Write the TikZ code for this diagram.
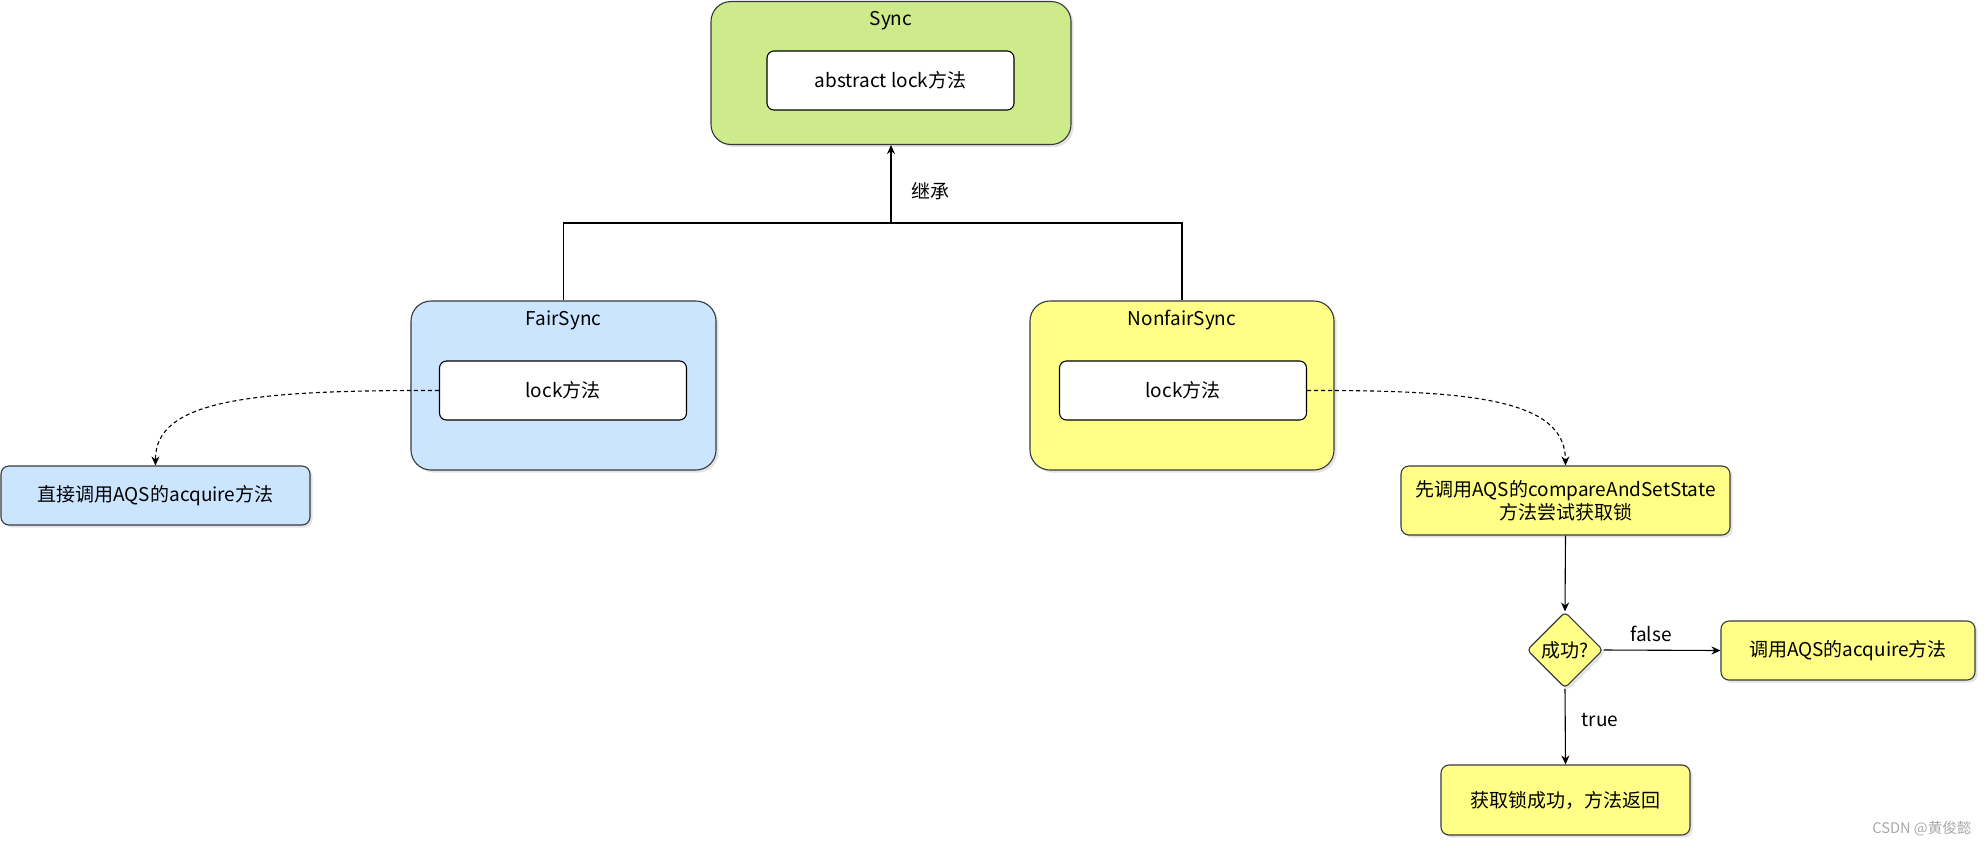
\documentclass[tikz,border=0pt]{standalone}
\usepackage{fontspec}
\setmainfont{Noto Sans CJK SC}
\usetikzlibrary{shapes.geometric,arrows.meta,shadows}
\definecolor{sgreen}{HTML}{CDEB8B}
\definecolor{sblue}{HTML}{CCE5FF}
\definecolor{syellow}{HTML}{FFFF88}
\definecolor{sstroke}{HTML}{36393D}
\definecolor{wmark}{HTML}{A8A8A8}
\begin{document}
\begin{tikzpicture}[x=0.5pt,y=-0.5pt,
  font=\fontsize{9.5}{12}\selectfont,
  shd/.style={drop shadow={opacity=0.22,shadow xshift=1.3pt,shadow yshift=-1.3pt}},
  outerbox/.style={draw=sstroke,line width=0.55pt,rounded corners=10pt,shd,
    minimum width=#1,minimum height=84.5pt,inner sep=0pt},
  innerbox/.style={draw=black,line width=0.55pt,fill=white,rounded corners=3.5pt,
    minimum width=123.5pt,minimum height=29.5pt,inner sep=0pt},
  procbox/.style={draw=sstroke,line width=0.55pt,rounded corners=4pt,shd,inner sep=0pt,align=center},
  conn/.style={draw=black,line width=0.55pt},
  arr/.style={conn,-{Stealth[length=4.5pt,width=4pt]}},
  darr/.style={arr,dash pattern=on 2pt off 1.5pt},
  lbl/.style={inner sep=0pt}
]
\useasboundingbox (0,0) rectangle (1987,847);

% Sync
\node[outerbox=180pt,minimum height=71.5pt,fill=sgreen] (sync) at (891,73) {};
\node[lbl,anchor=base] (synct) at (891,25) {Sync};
\node[innerbox] (synci) at (890.5,80.5) {abstract lock方法};

% FairSync
\node[outerbox=152.5pt,fill=sblue] (fair) at (563.5,385.5) {};
\node[lbl,anchor=base] (fairt) at (563.5,325) {FairSync};
\node[innerbox] (fairi) at (563,390.5) {lock方法};

% NonfairSync
\node[outerbox=152pt,fill=syellow] (nonfair) at (1182,385.5) {};
\node[lbl,anchor=base] (nonfairt) at (1182,325) {NonfairSync};
\node[innerbox] (nonfairi) at (1183,390.5) {lock方法};

% inheritance
\coordinate (j) at (891,223);
\draw[conn] (fair.north) |- (j);
\draw[conn] (nonfair.north) |- (j);
\draw[arr] (j) -- (sync.south);
\node[lbl] (inh) at (930,191) {继承};

% left process
\node[procbox,fill=sblue,minimum width=154.5pt,minimum height=29.5pt] (direct) at (155.5,495.5) {直接调用AQS的acquire方法};
\draw[darr] (fairi.west) .. controls (250,390) and (155,400) .. (direct.north);

% right process
\node[procbox,fill=syellow,minimum width=164.5pt,minimum height=34.5pt,font=\fontsize{9.5}{11.5}\selectfont] (cas) at (1565.5,500.5) {先调用AQS的compareAndSetState\\方法尝试获取锁};
\draw[darr] (nonfairi.east) .. controls (1475,390) and (1565,400) .. (cas.north);

\node[diamond,draw=sstroke,line width=0.55pt,fill=syellow,shd,minimum width=38pt,minimum height=38pt,inner sep=0pt,rounded corners=2pt] (ok) at (1565,650) {成功?};
\draw[arr] (cas.south) -- (ok.north);

\node[procbox,fill=syellow,minimum width=127pt,minimum height=29.5pt] (acq) at (1848,650.5) {调用AQS的acquire方法};
\draw[arr] (ok.east) -- (acq.west);
\node[lbl] (flbl) at (1651,634) {false};

\node[procbox,fill=syellow,minimum width=124.5pt,minimum height=35pt] (ret) at (1565.5,800) {获取锁成功，方法返回};
\draw[arr] (ok.south) -- (ret.north);
\node[lbl] (tlbl) at (1600,720) {true};

% watermark
\node[lbl,text=wmark,font=\fontsize{7.3}{9}\selectfont] (wm) at (1922,829) {CSDN @黄俊懿};
\end{tikzpicture}
\end{document}
